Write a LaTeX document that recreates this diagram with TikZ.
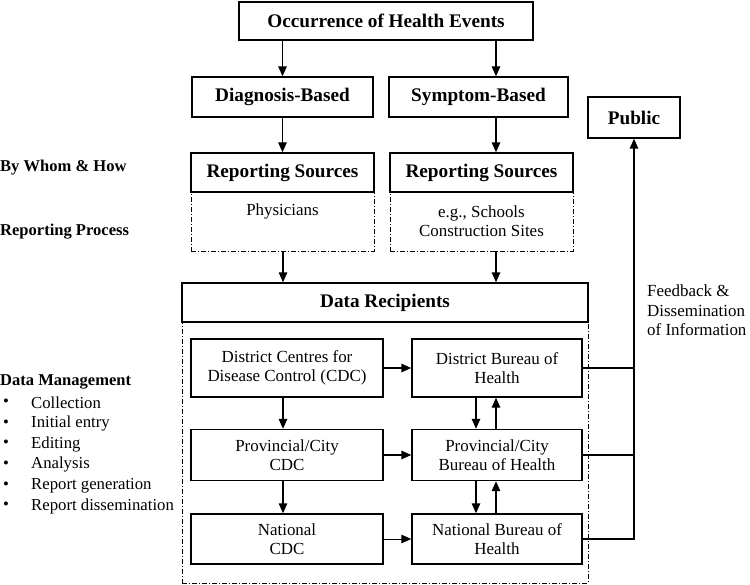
\documentclass[tikz,border=0pt]{standalone}
\usepackage{fontspec}
\setmainfont{Liberation Serif}
\usetikzlibrary{arrows.meta}
\begin{document}
\begin{tikzpicture}[x=1bp,y=-1bp,
  box/.style={draw, line width=1.4bp, inner sep=0pt, align=center, fill=white},
  ddbox/.style={draw, line width=0.9bp, dash pattern=on 5bp off 2bp on 1bp off 2bp, inner sep=0pt},
  arr/.style={line width=1.4bp, -{Triangle[length=10bp,width=8.5bp]}},
  ln/.style={line width=1.4bp},
  hd/.style={font=\fontsize{19.3}{22}\selectfont\bfseries},
  bd/.style={font=\fontsize{17}{19.5}\selectfont},
  lbl/.style={font=\fontsize{16.6}{19}\selectfont\bfseries, anchor=west, inner sep=0pt},
  itm/.style={font=\fontsize{16.8}{19}\selectfont, anchor=west, inner sep=0pt},
]
\useasboundingbox (0,0) rectangle (750,585);
\coordinate (cL) at (283,0);
\coordinate (cR) at (496,0);
\coordinate (cD) at (476,0);
% dashed frames
\node[ddbox, minimum width=183bp, minimum height=59bp] (rs1d) at (282.5,221.5) {};
\node[ddbox, minimum width=183bp, minimum height=59bp] (rs2d) at (481.5,221.5) {};
\node[ddbox, minimum width=406bp, minimum height=261bp] (drd) at (385,452.5) {};
% boxes
\node[box, hd, minimum width=294bp, minimum height=38bp] (occ) at (386,21) {Occurrence of Health Events};
\node[box, hd, minimum width=181bp, minimum height=40bp] (diag) at (282.5,97) {Diagnosis-Based};
\node[box, hd, minimum width=179bp, minimum height=40bp] (symp) at (478.5,97) {Symptom-Based};
\node[box, hd, minimum width=183bp, minimum height=39bp] (rs1) at (282.5,172.5) {Reporting Sources};
\node[box, hd, minimum width=183bp, minimum height=39bp] (rs2) at (481.5,172.5) {Reporting Sources};
\node[box, hd, minimum width=92bp, minimum height=41bp] (pub) at (634,117.5) {Public};
\node[box, hd, minimum width=406bp, minimum height=39bp] (dr) at (385,302.5) {Data Recipients};
\node[bd, inner sep=0pt] (phys) at (282.5,211) {Physicians};
\node[bd, inner sep=0pt, align=center] (eg) at (481.5,221) {e.g., Schools\\Construction Sites};
\node[box, bd, minimum width=192bp, minimum height=58bp] (dcdc) at (287,368) {District Centres for\\Disease Control (CDC)};
\node[box, bd, minimum width=170bp, minimum height=58bp] (dbur) at (497,368) {District Bureau of\\Health};
\node[box, bd, minimum width=192bp, minimum height=51bp] (pcdc) at (287,455) {Provincial/City\\CDC};
\node[box, bd, minimum width=170bp, minimum height=51bp] (pbur) at (497,455) {Provincial/City\\Bureau of Health};
\node[box, bd, minimum width=192bp, minimum height=50bp] (ncdc) at (287,539) {National\\CDC};
\node[box, bd, minimum width=170bp, minimum height=50bp] (nbur) at (497,539) {National Bureau of\\Health};
% left labels
\node[lbl] (who) at (0,168) {By Whom \& How};
\node[lbl] (proc) at (0,232) {Reporting Process};
\node[lbl] (dm) at (0,382) {Data Management};
\foreach \t [count=\i] in {Collection,Initial entry,Editing,Analysis,Report generation,Report dissemination}{
  \node[itm] (bu\i) at (3,{382+20.7*\i}) {•};
  \node[itm] (it\i) at (31,{382+20.7*\i}) {\t};
}
\node[font=\fontsize{17}{19.7}\selectfont, align=left, anchor=west, inner sep=0pt] (fb) at (647,310.5) {Feedback \&\\Dissemination\\of Information};
% arrows
\draw[arr] (occ.south -| diag.north) -- (diag.north);
\draw[arr] (occ.south -| cR) -- (symp.north -| cR);
\draw[arr] (diag.south) -- (rs1.north);
\draw[arr] (symp.south -| cR) -- (rs2.north -| cR);
\draw[arr] (rs1d.south -| cL) -- (dr.north -| cL);
\draw[arr] (rs2d.south -| cR) -- (dr.north -| cR);
\draw[arr] (dcdc.east) -- (dbur.west);
\draw[arr] (pcdc.east) -- (pbur.west);
\draw[arr, line width=1bp] (ncdc.east) -- (nbur.west);
\draw[arr] (dcdc.south -| cL) -- (pcdc.north -| cL);
\draw[arr] (pcdc.south -| cL) -- (ncdc.north -| cL);
\draw[arr] (dbur.south -| cD) -- (pbur.north -| cD);
\draw[arr] (pbur.north -| cR) -- (dbur.south -| cR);
\draw[arr] (pbur.south -| cD) -- (nbur.north -| cD);
\draw[arr] (nbur.north -| cR) -- (pbur.south -| cR);
\draw[arr] (nbur.east) -| (pub.south);
\draw[ln] (dbur.east) -- (dbur.east -| pub.south);
\draw[ln] (pbur.east) -- (pbur.east -| pub.south);
\end{tikzpicture}
\end{document}
